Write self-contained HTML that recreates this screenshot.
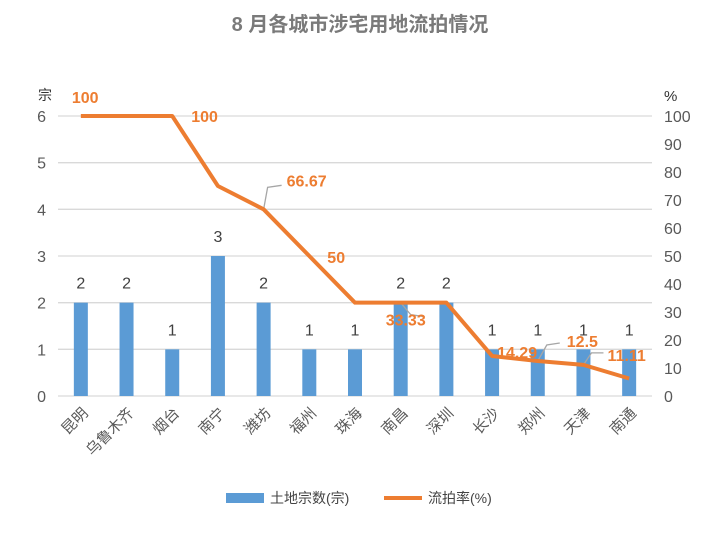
<!DOCTYPE html>
<html><head><meta charset="utf-8">
<style>
body{margin:0;background:#fff;}
svg{display:block;font-family:"Liberation Sans","Noto Sans CJK SC",sans-serif;}
</style></head>
<body>
<svg id="chart" width="719" height="534" viewBox="0 0 719 534">
<text x="360" y="31" text-anchor="middle" font-size="20" font-weight="bold" fill="#7a7a7a">8 月各城市涉宅用地流拍情况</text>
<text x="38" y="100" font-size="14" fill="#333">宗</text>
<text x="664" y="101" font-size="15" fill="#333">%</text>
<g id="grid"></g><g id="bars"></g><g id="leaders"></g><g id="line"></g><g id="labels"></g>
<g>
<rect x="226" y="493" width="38" height="10" fill="#5b9bd5"/>
<text x="270" y="503" font-size="14" fill="#444">土地宗数(宗)</text>
<line x1="384" y1="498" x2="422" y2="498" stroke="#ed7d31" stroke-width="4"/>
<text x="428" y="503" font-size="14" fill="#444">流拍率(%)</text>
</g>
</svg>
<script>
const categories=["昆明","乌鲁木齐","烟台","南宁","潍坊","福州","珠海","南昌","深圳","长沙","郑州","天津","南通"];
const counts=[2,2,1,3,2,1,1,2,2,1,1,1,1];
const rates=[100,100,100,75,66.67,50,33.33,33.33,33.33,14.29,12.5,11.11,6.25];
const rateLabels=["100","","100","","66.67","50","","33.33","","14.29","12.5","11.11",""];
const leftTicks=[0,1,2,3,4,5,6];
const rightTicks=[0,10,20,30,40,50,60,70,80,90,100];
const NS="http://www.w3.org/2000/svg";
const x0=58,x1=652,yTop=116,yBot=396;
const step=(x1-x0)/categories.length;
const xc=i=>x0+step*(i+0.5);
const yL=v=>yBot-(v/6)*(yBot-yTop);
const yR=v=>yBot-(v/100)*(yBot-yTop);
function mk(tag,attrs,parent,txt){const e=document.createElementNS(NS,tag);for(const k in attrs)e.setAttribute(k,attrs[k]);if(txt!==undefined)e.textContent=txt;parent.appendChild(e);return e;}
const grid=document.getElementById('grid');
leftTicks.forEach(t=>{
 const l=mk('line',{x1:x0,x2:x1,y1:yL(t),y2:yL(t),stroke:'#d9d9d9','stroke-width':1.3},grid);
 
 
 const tx=mk('text',{x:46,y:yL(t)+6,'text-anchor':'end','font-size':16,fill:'#595959'},grid,t);
 
 
});
rightTicks.forEach(t=>{
 const tx=mk('text',{x:664,y:yR(t)+6,'font-size':16,fill:'#595959'},grid,t);
 
 
});
const bars=document.getElementById('bars');
counts.forEach((v,i)=>{
 const r=mk('rect',{x:xc(i)-7,y:yL(v),width:14,height:yBot-yL(v),fill:'#5b9bd5'},bars);
 
 
 const t=mk('text',{x:xc(i),y:yL(v)-14,'text-anchor':'middle','font-size':16,fill:'#404040'},bars,v);
 
 
 const c=mk('text',{transform:`translate(${xc(i)+8},${yBot+18}) rotate(-45)`,'text-anchor':'end','font-size':15,fill:'#595959'},bars,categories[i]);
 
 
});
const lg=document.getElementById('line');
const p=mk('polyline',{points:rates.map((v,i)=>xc(i)+','+yR(v)).join(' '),fill:'none',stroke:'#ed7d31','stroke-width':4,'stroke-linejoin':'round'},lg);


const lb=document.getElementById('labels');
const offs=[[-9,-13],[0,0],[19,6],[0,0],[23,-23],[18,7],[0,0],[-15,23],[0,0],[5,2],[29,-14],[24,-4],[0,0]];
// leader lines: [index, dx1,dy1, dx2,dy2]
const leaders=document.getElementById('leaders');
const leaderOffs={4:[[4,-22],[18,-24]],7:[[10,12],[24,14]],10:[[9,-16],[22,-18]],11:[[8,-12],[20,-12]]};
rateLabels.forEach((s,i)=>{
 if(!s)return;
 if(leaderOffs[i]){
  const px=xc(i),py=yR(rates[i]);const L=leaderOffs[i];
  const ld=mk('polyline',{points:`${px},${py} ${px+L[0][0]},${py+L[0][1]} ${px+L[1][0]},${py+L[1][1]}`,fill:'none',stroke:'#a6a6a6','stroke-width':1.3},leaders);
  
  
 }
 const t=mk('text',{x:xc(i)+offs[i][0],y:yR(rates[i])+offs[i][1],'font-size':16,'font-weight':'bold',fill:'#ed7d31'},lb,s);
 
 
});
</script>
</body></html>
